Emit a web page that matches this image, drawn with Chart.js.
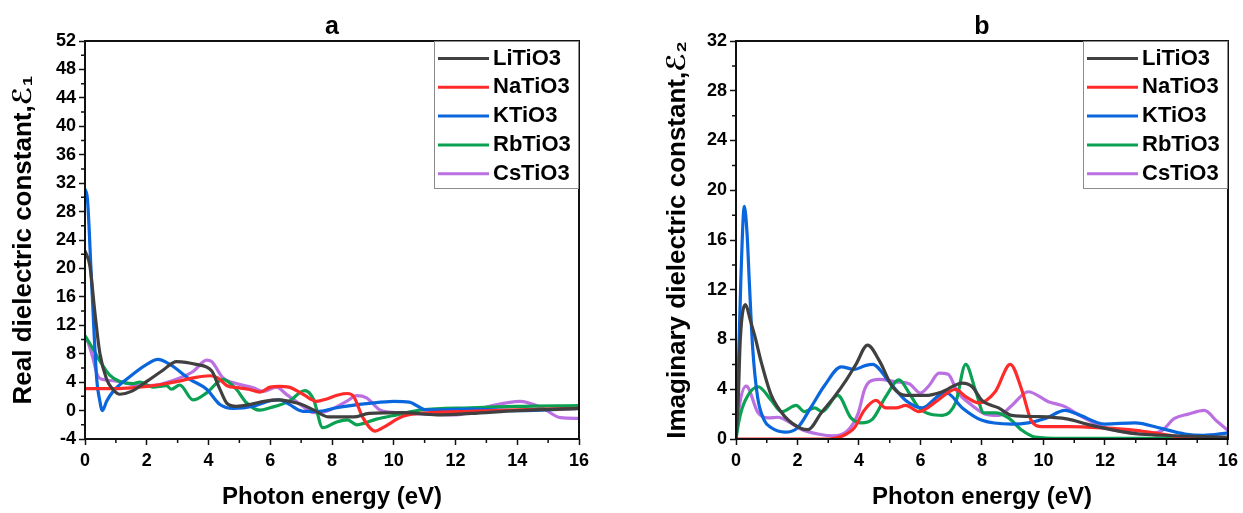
<!DOCTYPE html>
<html>
<head>
<meta charset="utf-8">
<script src="https://cdn.jsdelivr.net/npm/chart.js@4.4.0/dist/chart.umd.min.js"></script>
<style>
    html, body { margin: 0; padding: 0; background: #fff; }
    #wrap { position: relative; width: 1243px; height: 513px; }
    .panel { position: absolute; top: 0; }
    #pa { left: 0; }
    #pb { left: 621px; }
</style>
</head>
<body>
<div id="wrap">
    <div class="panel" id="pa"><canvas id="plot-a" width="621" height="513"></canvas></div>
    <div class="panel" id="pb"><canvas id="plot-b" width="622" height="513"></canvas></div>
</div>
<script>
// series names and colours
let names = ['LiTiO3', 'NaTiO3', 'KTiO3', 'RbTiO3', 'CsTiO3'];
let colors = ['#404040', '#ff2b2b', '#0a66dc', '#0aa152', '#bb70e2'];

// (a) real part, eps1 vs photon energy (eV)
let li_e1 = [0, 0.16, 0.32, 0.48, 0.7, 0.9, 1.13, 1.5, 2.0, 2.5, 2.97, 3.6, 4.1, 4.35, 4.6, 4.9, 5.4, 5.8, 6.3, 6.6, 7.0, 7.4, 7.9, 8.7, 9.2, 10.3, 11.4, 12.5, 14, 16];
let li_v1 = [22.5, 20.3, 13.8, 8.1, 4.4, 3.0, 2.3, 2.7, 4.1, 5.6, 6.9, 6.5, 5.6, 3.2, 1.0, 0.6, 0.9, 1.3, 1.5, 1.3, 0.9, 0.1, -0.9, -0.9, -0.4, -0.3, -0.6, -0.4, 0.0, 0.3];
let na_e1 = [0, 1.0, 1.5, 2.0, 2.5, 3.0, 3.5, 4.05, 4.3, 4.6, 5.0, 5.3, 5.67, 6.0, 6.3, 6.6, 7.06, 7.5, 7.8, 8.2, 8.5, 8.7, 9.0, 9.4, 9.65, 10.3, 11.2, 12.5, 14, 16];
let na_v1 = [3.1, 3.1, 3.2, 3.4, 3.7, 4.1, 4.6, 4.9, 4.6, 3.5, 3.2, 3.0, 2.6, 3.3, 3.4, 3.3, 2.3, 1.3, 1.6, 2.2, 2.4, 2.0, -1.0, -2.9, -2.4, -0.8, -0.3, -0.1, 0.1, 0.3];
let k_e1 = [0, 0.08, 0.21, 0.38, 0.47, 0.56, 0.7, 0.91, 1.46, 2.0, 2.36, 2.75, 3.4, 3.94, 4.37, 4.8, 5.45, 6.0, 6.3, 6.6, 7.06, 7.6, 8.15, 9.2, 10.0, 10.5, 11.05, 12.5, 14, 16];
let k_v1 = [31.2, 29.7, 18.4, 4.4, 1.6, 0.0, 1.3, 2.7, 4.8, 6.5, 7.2, 6.5, 4.4, 3.0, 0.85, 0.3, 0.6, 1.4, 1.5, 0.9, -0.1, -0.1, 0.4, 1.0, 1.3, 1.2, 0.1, 0.2, 0.0, 0.3];
let rb_e1 = [0, 0.27, 0.48, 0.8, 1.13, 1.56, 1.78, 2.2, 2.64, 2.8, 3.07, 3.5, 3.94, 4.47, 4.9, 5.23, 5.66, 6.0, 6.6, 7.12, 7.4, 7.7, 8.15, 8.5, 8.8, 9.44, 10.1, 10.9, 12.5, 14, 16];
let rb_v1 = [10.5, 8.6, 7.0, 5.0, 4.1, 3.8, 4.0, 3.3, 3.5, 3.0, 3.6, 1.5, 2.5, 4.4, 3.0, 1.1, 0.05, 0.4, 1.3, 2.8, 1.6, -2.4, -1.6, -1.3, -2.0, -1.2, -0.6, 0.1, 0.4, 0.6, 0.7];
let cs_e1 = [0, 0.1, 0.25, 0.4, 0.55, 0.91, 1.2, 1.78, 2.3, 3.07, 3.5, 3.94, 4.1, 4.47, 4.9, 5.45, 5.77, 6.2, 6.53, 7.06, 7.4, 7.82, 8.47, 8.8, 9.12, 9.55, 10.1, 11.05, 12.0, 13.1, 14.08, 14.8, 15.4, 16];
let cs_v1 = [10.5, 9.6, 7.5, 5.0, 4.4, 4.2, 4.0, 3.5, 3.6, 4.6, 5.5, 7.1, 6.9, 4.6, 3.8, 3.2, 2.7, 3.3, 2.25, 0.6, -0.3, -0.1, 1.3, 2.1, 1.8, 0.1, -0.3, -0.5, -0.6, 0.6, 1.3, 0.4, -1.0, -1.1];

// (b) imaginary part, eps2 vs photon energy (eV)
let li_e2 = [0, 0.07, 0.14, 0.31, 0.46, 0.62, 0.83, 1.15, 1.59, 2.12, 2.34, 2.77, 3.2, 3.6, 3.9, 4.28, 4.66, 5.09, 5.52, 6.17, 6.71, 7.36, 7.68, 8.0, 8.54, 8.97, 9.84, 10.8, 11.4, 12.2, 13.1, 13.8, 16];
let li_v2 = [0, 3.0, 8.0, 10.8, 9.6, 8.2, 6.1, 3.5, 1.8, 0.85, 0.75, 2.1, 3.4, 4.8, 6.0, 7.55, 6.3, 4.2, 3.5, 3.5, 3.8, 4.5, 4.2, 3.1, 2.5, 1.9, 1.8, 1.6, 1.2, 0.75, 0.4, 0.3, 0.15];
let na_e2 = [0, 3.0, 3.42, 3.85, 4.17, 4.55, 4.87, 5.2, 5.52, 5.95, 6.5, 6.93, 7.14, 7.47, 7.9, 8.43, 8.92, 9.3, 9.6, 9.95, 10.8, 11.9, 13.0, 13.83, 14.7, 16];
let na_v2 = [0, 0, 0.2, 0.9, 2.3, 3.1, 2.5, 2.5, 2.7, 2.2, 3.0, 3.8, 4.0, 3.4, 2.9, 3.8, 6.0, 3.9, 1.5, 1.0, 1.0, 0.9, 0.7, 0.4, 0.1, 0.05];
let k_e2 = [0, 0.08, 0.16, 0.27, 0.36, 0.43, 0.54, 0.7, 0.92, 1.15, 1.59, 2.0, 2.45, 2.88, 3.42, 3.85, 4.2, 4.44, 4.98, 5.52, 6.06, 6.6, 6.85, 7.36, 8.0, 8.97, 9.5, 10.06, 10.7, 11.1, 12.0, 12.97, 13.83, 14.6, 15.2, 16];
let k_v2 = [0, 6.0, 13.0, 18.7, 16.5, 12.8, 7.4, 3.4, 1.5, 0.9, 0.55, 0.9, 2.6, 4.3, 5.8, 5.6, 5.9, 6.0, 4.6, 3.1, 2.5, 3.5, 3.7, 2.5, 1.5, 1.2, 1.3, 1.65, 2.3, 2.0, 1.2, 1.3, 0.85, 0.4, 0.3, 0.5];
let rb_e2 = [0, 0.1, 0.3, 0.72, 1.15, 1.48, 1.96, 2.22, 2.56, 2.8, 3.31, 3.74, 4.07, 4.44, 4.87, 5.3, 5.63, 5.95, 6.71, 7.14, 7.47, 7.79, 8.06, 8.43, 8.86, 9.3, 9.73, 10.6, 16];
let rb_v2 = [0, 1.5, 3.1, 4.2, 3.1, 2.2, 2.7, 2.2, 2.5, 2.2, 3.5, 1.7, 1.3, 1.6, 3.4, 4.75, 3.7, 2.5, 1.9, 2.9, 6.0, 3.9, 2.1, 2.1, 1.7, 0.7, 0.15, 0.05, 0.05];
let cs_e2 = [0, 0.1, 0.33, 0.72, 1.04, 1.37, 1.7, 2.1, 2.66, 3.2, 3.6, 3.8, 3.98, 4.17, 4.34, 4.66, 5.2, 5.63, 6.0, 6.28, 6.6, 6.9, 7.2, 7.68, 8.11, 8.54, 8.97, 9.5, 10.16, 10.7, 11.24, 11.9, 12.5, 13.2, 13.8, 14.26, 14.7, 15.23, 15.65, 16];
let cs_v2 = [0, 2.5, 4.25, 2.1, 1.7, 1.75, 1.4, 0.8, 0.4, 0.25, 0.6, 1.2, 2.1, 3.9, 4.6, 4.8, 4.6, 4.45, 3.7, 4.3, 5.3, 5.2, 3.8, 2.7, 2.0, 1.9, 2.7, 3.8, 3.0, 2.6, 1.8, 1.0, 0.6, 0.4, 0.6, 1.65, 2.0, 2.3, 1.4, 0.7];

let x_ticks = [0, 2, 4, 6, 8, 10, 12, 14, 16];

const FONT = "'Liberation Sans', 'DejaVu Sans', sans-serif";
Chart.defaults.font.family = FONT;
Chart.defaults.font.weight = 'bold';
Chart.defaults.color = '#000';

// box round the plot area
const frame_plugin = {
    id: 'frame',
    afterDraw(chart) {
        let { ctx, chartArea: a } = chart;
        ctx.save();
        ctx.strokeStyle = '#111';
        ctx.lineWidth = 2;
        ctx.strokeRect(a.left, a.top, a.right - a.left, a.bottom - a.top);
        ctx.restore();
    }
};

// short unlabelled ticks between the major ones
const minor_plugin = {
    id: 'minorTicks',
    afterDraw(chart, args, opts) {
        let { ctx, chartArea: a, scales: { x, y } } = chart;
        ctx.save();
        ctx.strokeStyle = '#111';
        ctx.lineWidth = 1.5;
        ctx.beginPath();
        for (let v = x.min + opts.x; v < x.max; v += 2 * opts.x) {
            let px = x.getPixelForValue(v);
            ctx.moveTo(px, a.bottom);
            ctx.lineTo(px, a.bottom + 4);
        }
        for (let v = y.min + opts.y; v < y.max; v += 2 * opts.y) {
            let py = y.getPixelForValue(v);
            ctx.moveTo(a.left, py);
            ctx.lineTo(a.left - 4, py);
        }
        ctx.stroke();
        ctx.restore();
    }
};

// legend in a grey box at the top right corner
const legend_plugin = {
    id: 'legendBox',
    afterDraw(chart) {
        let { ctx, chartArea: a } = chart;
        let w = 145, h = 147;
        let left = a.right - w, top = a.top;
        ctx.save();
        ctx.fillStyle = '#fff';
        ctx.fillRect(left, top, w, h);
        ctx.strokeStyle = '#8c8c8c';
        ctx.lineWidth = 1;
        ctx.strokeRect(left + 0.5, top + 0.5, w - 1, h);
        ctx.font = `bold 22px ${FONT}`;
        ctx.textBaseline = 'middle';
        chart.data.datasets.forEach((ds, i) => {
            let yy = top + 17.5 + i * 28.8;
            ctx.strokeStyle = ds.borderColor;
            ctx.lineWidth = 3;
            ctx.beginPath();
            ctx.moveTo(left + 4, yy);
            ctx.lineTo(left + 55, yy);
            ctx.stroke();
            ctx.fillStyle = '#000';
            ctx.fillText(ds.label, left + 59, yy);
        });
        ctx.restore();
    }
};

function make_series(e_list, v_list) {
    return names.map((n, i) => ({
        label: n,
        data: e_list[i].map((e, j) => ({ x: e, y: v_list[i][j] })),
        borderColor: colors[i],
        backgroundColor: colors[i],
        borderWidth: 3.2,
        pointRadius: 0,
        fill: false,
        cubicInterpolationMode: 'monotone'
    }));
}

function plot_panel(id, letter, y_title, y_min, y_max, datasets, y_width, right_pad, title_pad) {
    let ctx = document.getElementById(id);
    return new Chart(ctx, {
        type: 'line',
        data: { datasets: datasets },
        options: {
            responsive: false,
            animation: false,
            layout: { padding: { left: 0, right: right_pad, top: 0, bottom: 0 } },
            scales: {
                x: {
                    type: 'linear',
                    min: 0,
                    max: 16,
                    afterBuildTicks: (s) => { s.ticks = x_ticks.map(v => ({ value: v })); },
                    afterFit: (s) => { s.height = 74; },
                    ticks: { font: { size: 18, weight: 'bold' }, padding: 5, maxRotation: 0 },
                    grid: { drawOnChartArea: false, drawTicks: true, tickLength: 6, tickColor: '#111', tickWidth: 1.5 },
                    border: { display: false },
                    title: {
                        display: true,
                        text: 'Photon energy (eV)',
                        font: { size: 24, weight: 'bold' },
                        padding: { top: 0, bottom: 1 }
                    }
                },
                y: {
                    type: 'linear',
                    min: y_min,
                    max: y_max,
                    afterFit: (s) => { s.width = y_width; },
                    ticks: { stepSize: 4, font: { size: 18, weight: 'bold' }, padding: 3 },
                    grid: { drawOnChartArea: false, drawTicks: true, tickLength: 6, tickColor: '#111', tickWidth: 1.5 },
                    border: { display: false },
                    title: {
                        display: true,
                        text: y_title,
                        font: { size: 26, weight: 'bold' },
                        padding: { top: title_pad, bottom: 0 }
                    }
                }
            },
            plugins: {
                legend: { display: false },
                tooltip: { enabled: false },
                title: {
                    display: true,
                    text: letter,
                    fullSize: false,
                    font: { size: 25, weight: 'bold', lineHeight: '28px' },
                    padding: { top: 13, bottom: 0 }
                },
                minorTicks: { x: 1, y: 2 }
            }
        },
        plugins: [frame_plugin, minor_plugin, legend_plugin]
    });
}

plot_panel('plot-a', 'a', 'Real dielectric constant,\u2130\u2081', -4, 52,
    make_series([li_e1, na_e1, k_e1, rb_e1, cs_e1], [li_v1, na_v1, k_v1, rb_v1, cs_v1]),
    85, 42, 8);
plot_panel('plot-b', 'b', 'Imaginary dielectric constant,\u2130\u2082', 0, 32,
    make_series([li_e2, na_e2, k_e2, rb_e2, cs_e2], [li_v2, na_v2, k_v2, rb_v2, cs_v2]),
    115, 13, 41);
</script>
</body>
</html>
